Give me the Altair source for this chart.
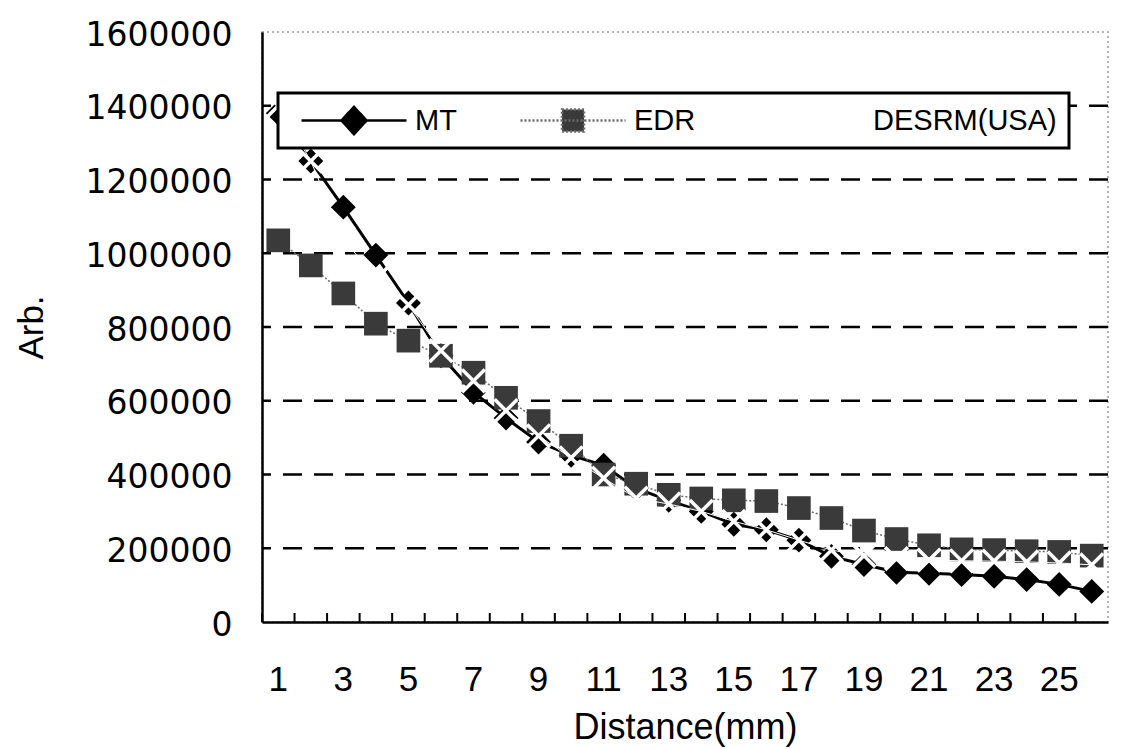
import altair as alt
import pandas as pd

# ---------------- data ----------------
distance = list(range(1, 27))
series_names = ["MT", "EDR", "DESRM(USA)"]
mt = [1380000, 1250000, 1125000, 995000, 865000, 722000, 623000, 553000, 488000, 452000,
      425000, 362000, 330000, 300000, 265000, 250000, 222000, 178000, 156000, 135000,
      132000, 129000, 124000, 115000, 102000, 83000]
edr = [1035000, 967000, 891000, 809000, 763000, 722000, 676000, 608000, 545000, 478000,
       400000, 375000, 345000, 335000, 330000, 328000, 309000, 282000, 248000, 225000,
       208000, 197000, 195000, 192000, 190000, 180000]
desrm = [1400000, 1250000, 1040000, 930000, 860000, 736000, 654000, 573000, 505000, 445000,
         390000, 336000, 320000, 300000, 273000, 250000, 222000, 195000, 180000, 172000,
         168000, 166000, 165000, 163000, 160000, 155000]
y_tick_values = [0, 200000, 400000, 600000, 800000, 1000000, 1200000, 1400000, 1600000]
grid_values = [200000, 400000, 600000, 800000, 1000000, 1200000, 1400000]
x_label_values = [1, 3, 5, 7, 9, 11, 13, 15, 17, 19, 21, 23, 25]

rows = []
for name, vals in zip(series_names, [mt, edr, desrm]):
    for d, v in zip(distance, vals):
        rows.append({"distance": d, "value": v, "series": name})
df = pd.DataFrame(rows)
df_grid = pd.DataFrame({"g": grid_values})
df_cat = pd.DataFrame({"distance": distance})
df_leg = pd.DataFrame({"distance": [1, 1, 1], "value": [mt[0], edr[0], desrm[0]],
                       "series": series_names})

W, H = 846, 590

x_scale = alt.Scale(type="band", domain=distance, paddingInner=0, paddingOuter=0)
y_scale = alt.Scale(domain=[0, 1600000], nice=False, zero=True)

x_axis = alt.Axis(values=x_label_values, labelAngle=0, ticks=False, grid=False,
                  domainColor="black", domainWidth=2.5,
                  labelFont="Liberation Sans", labelFontSize=35, labelColor="black",
                  labelPadding=40, title="Distance(mm)", titleFont="Liberation Sans",
                  titleFontSize=36, titleFontWeight="normal", titleColor="black",
                  titlePadding=13)
y_axis = alt.Axis(values=y_tick_values, format="d", ticks=False, grid=False,
                  domainColor="black", domainWidth=2.5,
                  labelFont="DejaVu Sans", labelFontSize=33, labelColor="black",
                  labelPadding=30, labelOffset=3, title="Arb.", titleFont="Liberation Sans",
                  titleFontSize=35, titleFontWeight="normal", titleColor="black",
                  titlePadding=36)

X = lambda: alt.X("distance:O", scale=x_scale, axis=x_axis)
Y = lambda: alt.Y("value:Q", scale=y_scale, axis=y_axis)

grid = alt.Chart(df_grid).mark_rule(color="black", strokeDash=[19, 12], strokeWidth=2.5).encode(
    y=alt.Y("g:Q", scale=y_scale, axis=y_axis)
)

ticks = alt.Chart(df_cat).mark_rule(color="black", strokeWidth=2).encode(
    x=alt.X("distance:O", scale=x_scale, axis=x_axis, bandPosition=0),
    y=alt.value(H - 9), y2=alt.value(H)
)

mt_line = alt.Chart(df).transform_filter(alt.datum.series == "MT").mark_line(
    color="black", strokeWidth=3).encode(x=X(), y=Y())
mt_pts = alt.Chart(df).transform_filter(alt.datum.series == "MT").mark_point(
    shape="diamond", filled=True, color="black", size=620, opacity=1).encode(x=X(), y=Y())

edr_line = alt.Chart(df).transform_filter(alt.datum.series == "EDR").mark_line(
    color="#6a6a6a", strokeWidth=1.5, strokeDash=[2, 2]).encode(x=X(), y=Y())
edr_pts = alt.Chart(df).transform_filter(alt.datum.series == "EDR").mark_point(
    shape="square", filled=True, color="#3a3a3a", size=560, opacity=1).encode(x=X(), y=Y())

des_line = alt.Chart(df).transform_filter(alt.datum.series == "DESRM(USA)").mark_line(
    color="white", strokeWidth=1).encode(x=X(), y=Y())
des_pts = alt.Chart(df).transform_filter(alt.datum.series == "DESRM(USA)").mark_point(
    shape="M-1,-1L1,1M-1,1L1,-1", filled=False, color="white", strokeWidth=3.5,
    size=520, opacity=1).encode(x=X(), y=Y())

path_mt = "M-1,0L1,0M0,-0.26L0.24,0L0,0.26L-0.24,0Z"
path_edr = "M-1,0L1,0M-0.21,-0.21L0.21,-0.21L0.21,0.21L-0.21,0.21Z"
path_des = "M-1,0L1,0"

legend = alt.Legend(
    orient="none", legendX=16, legendY=61, direction="horizontal", title=None,
    labelFont="Liberation Sans", labelFontSize=29, labelColor="black",
    labelOffset=7, labelLimit=500, columnPadding=52, padding=12,
    symbolSize=11025, symbolOffset=10, clipHeight=31, fillColor="white", strokeColor="black",
    symbolStrokeWidth=2.5, symbolOpacity=1,
)

leg_layer = alt.Chart(df_leg).mark_point(size=0, filled=True).encode(
    x=X(), y=Y(),
    shape=alt.Shape("series:N", scale=alt.Scale(domain=series_names,
                                                range=[path_mt, path_edr, path_des]),
                    legend=legend),
    fill=alt.Fill("series:N", scale=alt.Scale(domain=series_names,
                                              range=["#000000", "#3a3a3a", "#ffffff"]),
                  legend=legend),
    stroke=alt.Stroke("series:N", scale=alt.Scale(domain=series_names,
                                                  range=["#000000", "#6a6a6a", "#ffffff"]),
                      legend=legend),
    strokeDash=alt.StrokeDash("series:N", scale=alt.Scale(domain=series_names,
                                                          range=[[1, 0], [2, 2], [1, 0]]),
                              legend=legend),
)

chart = alt.layer(grid, ticks, mt_line, mt_pts, edr_line, edr_pts, des_line, des_pts, leg_layer).properties(
    width=W, height=H,
    autosize=alt.AutoSizeParams(type="none"),
    padding={"left": 262, "top": 32, "right": 17, "bottom": 127},
    background="white",
).configure_view(
    stroke="#9a9a9a", strokeDash=[2, 3], strokeWidth=1.5
).configure_legend(strokeWidth=3)

chart.save("out.html", embed_options={"renderer": "svg", "actions": False})
